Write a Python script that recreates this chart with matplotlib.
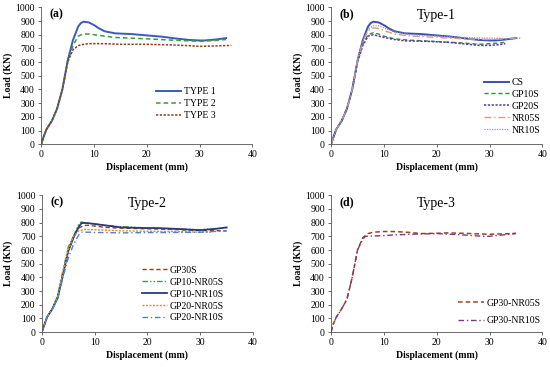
import matplotlib
matplotlib.use('Agg')
import matplotlib.pyplot as plt

plt.rcParams['font.family'] = ['Liberation Serif', 'DejaVu Serif']

# panel (a)
t1_x = [0, 0.5, 1, 2, 3, 4, 5, 6, 7, 7.5, 8, 9, 10, 11, 12, 14, 17, 20, 23, 26, 28, 30, 31, 33, 35]
t1_y = [0, 60, 110, 170, 260, 400, 610, 760, 860, 885, 895, 890, 870, 845, 825, 810, 805, 795, 785, 770, 762, 758, 758, 765, 775]
t2_x = [0, 0.5, 1, 2, 3, 4, 5, 6, 7, 8, 9, 10, 12, 14, 17, 20, 25, 30, 33, 35]
t2_y = [0, 60, 110, 170, 260, 400, 600, 720, 790, 805, 805, 800, 790, 780, 775, 770, 760, 752, 758, 765]
t3_x = [0, 0.5, 1, 2, 3, 4, 5, 6, 7, 8, 9, 11, 13, 15, 20, 25, 28, 30, 33, 36]
t3_y = [0, 60, 110, 170, 260, 400, 600, 690, 720, 730, 735, 735, 733, 730, 730, 725, 720, 715, 718, 722]

# panel (b)
cs_x, cs_y = t1_x, t1_y
gp10s_x = [0, 1, 2, 3, 4, 5, 6, 7, 8, 9, 10, 12, 15, 20, 25, 28, 30, 32, 33]
gp10s_y = [0, 110, 170, 260, 400, 600, 730, 800, 815, 805, 790, 770, 760, 750, 740, 730, 735, 740, 745]
gp20s_x = [0, 1, 2, 3, 4, 5, 6, 7, 8, 9, 10, 12, 14, 18, 22, 26, 28, 30, 32, 33]
gp20s_y = [0, 110, 170, 260, 400, 600, 720, 790, 800, 790, 780, 765, 755, 752, 745, 730, 722, 722, 728, 735]
nr05s_x = [0, 1, 2, 3, 4, 5, 6, 7, 8, 9, 10, 12, 15, 20, 25, 30, 33, 35]
nr05s_y = [0, 110, 170, 260, 400, 610, 750, 830, 850, 845, 830, 805, 790, 780, 770, 765, 770, 775]
nr10s_x = [0, 1, 2, 3, 4, 5, 6, 7, 8, 9, 10, 12, 15, 20, 25, 30, 33, 36]
nr10s_y = [0, 110, 170, 260, 400, 610, 755, 840, 865, 865, 850, 820, 800, 790, 780, 775, 772, 775]

# panel (c)
gp30s_x = [0, 1, 2, 3, 4, 5, 6, 7, 8, 9, 10, 12, 15, 20, 25, 30, 35]
gp30s_y = [0, 110, 170, 260, 420, 600, 700, 760, 780, 780, 775, 765, 760, 755, 750, 742, 740]
g10n05_x = [0, 1, 2, 3, 4, 5, 6, 7, 7.5, 8, 9, 10, 12, 15, 18, 20, 25, 30, 33, 35]
g10n05_y = [0, 110, 170, 270, 450, 620, 700, 790, 805, 800, 795, 790, 780, 770, 765, 760, 755, 748, 755, 762]
g10n10_x = [0, 1, 2, 3, 4, 5, 6, 7, 7.5, 8, 9, 10, 12, 15, 20, 22, 25, 30, 33, 35]
g10n10_y = [0, 110, 170, 250, 420, 590, 690, 770, 795, 798, 795, 790, 780, 765, 760, 760, 755, 745, 755, 765]
g20n05_x = [0, 1, 2, 3, 4, 5, 6, 7, 8, 10, 12, 15, 20, 25, 30, 32]
g20n05_y = [0, 110, 170, 260, 430, 600, 700, 740, 750, 748, 745, 740, 737, 735, 730, 730]
g20n10_x = [0, 1, 2, 3, 4, 5, 6, 7, 7.5, 9, 10, 12, 15, 20, 25, 30, 35]
g20n10_y = [0, 110, 170, 240, 400, 540, 640, 710, 730, 730, 728, 727, 725, 727, 728, 730, 740]

# panel (d)
gp30n05_x = [0, 0.3, 1, 2, 3, 4, 5, 6, 7, 8, 10, 12, 15, 17, 20, 22, 25, 30, 33, 35]
gp30n05_y = [0, 50, 110, 170, 240, 400, 600, 690, 720, 730, 735, 735, 728, 720, 722, 725, 722, 715, 718, 722]
gp30n10_x = [0, 0.3, 1, 2, 3, 4, 5, 6, 6.5, 8, 10, 12, 15, 20, 25, 28, 30, 33, 35]
gp30n10_y = [0, 50, 110, 170, 240, 400, 600, 680, 700, 702, 705, 710, 715, 720, 710, 702, 700, 712, 720]


def style_ax(ax, letter, title=None):
    ax.set_xlim(0, 40)
    ax.set_ylim(0, 1000)
    ax.set_xticks(range(0, 41, 10))
    ax.set_yticks(range(0, 1001, 100))
    ax.spines['top'].set_visible(False)
    ax.spines['right'].set_visible(False)
    for s in ('left', 'bottom'):
        ax.spines[s].set_linewidth(0.6)
        ax.spines[s].set_color('#555555')
    ax.tick_params(labelsize=7, width=0.6, length=2.5, color='#555555', pad=2)
    ax.set_xlabel('Displacement (mm)', fontsize=7, fontweight='bold', labelpad=2)
    ax.set_ylabel('Load (KN)', fontsize=7, fontweight='bold', labelpad=2)
    ax.text(0.04, 0.99, letter, transform=ax.transAxes, fontsize=8.5,
            fontweight='bold', va='top', ha='left')
    if title:
        ax.text(0.5, 0.99, title, transform=ax.transAxes, fontsize=10,
                va='top', ha='center')


fig = plt.figure(figsize=(5.5, 3.67), dpi=100)
w, h = 0.384, 0.373
ax_a = fig.add_axes([0.075, 0.607, w, h])
ax_b = fig.add_axes([0.602, 0.607, w, h])
ax_c = fig.add_axes([0.076, 0.095, w, h])
ax_d = fig.add_axes([0.602, 0.095, w, h])

leg_kw = dict(frameon=False, fontsize=7, handlelength=2.6, handletextpad=0.3,
              labelspacing=0.3, borderpad=0)

ax_a.plot(t1_x, t1_y, color='#3A5BB8', lw=1.4, label='TYPE 1')
ax_a.plot(t2_x, t2_y, color='#3C9A3C', lw=1.1, ls=(0, (3, 2)), label='TYPE 2')
ax_a.plot(t3_x, t3_y, color='#8B3E1E', lw=1.1, ls=(0, (1.5, 1)), label='TYPE 3')
style_ax(ax_a, '(a)')
ax_a.legend(loc='upper left', bbox_to_anchor=(0.52, 0.45), **leg_kw)

ax_b.plot(cs_x, cs_y, color='#3A4FB0', lw=1.4, label='CS')
ax_b.plot(gp10s_x, gp10s_y, color='#3C8A3C', lw=1.0, ls=(0, (3, 2)), label='GP10S')
ax_b.plot(gp20s_x, gp20s_y, color='#5A3AA0', lw=1.1, ls=(0, (1.5, 1)), label='GP20S')
ax_b.plot(nr05s_x, nr05s_y, color='#D9A080', lw=1.0, ls=(0, (5, 2, 1, 2)), label='NR05S')
ax_b.plot(nr10s_x, nr10s_y, color='#9A90C8', lw=0.9, ls=(0, (1, 1)), label='NR10S')
style_ax(ax_b, '(b)', 'Type-1')
ax_b.legend(loc='upper left', bbox_to_anchor=(0.7, 0.52), **leg_kw)

ax_c.plot(gp30s_x, gp30s_y, color='#9A3A20', lw=1.0, ls=(0, (3, 2)), label='GP30S')
ax_c.plot(g10n05_x, g10n05_y, color='#3C9A5A', lw=1.0, ls=(0, (4, 1.5, 1, 1.5, 1, 1.5)), label='GP10-NR05S')
ax_c.plot(g10n10_x, g10n10_y, color='#2A3A78', lw=1.3, label='GP10-NR10S')
ax_c.plot(g20n05_x, g20n05_y, color='#D9902A', lw=1.0, ls=(0, (1.5, 1)), label='GP20-NR05S')
ax_c.plot(g20n10_x, g20n10_y, color='#4A80D8', lw=1.0, ls=(0, (4, 2, 1, 2)), label='GP20-NR10S')
style_ax(ax_c, '(c)', 'Type-2')
ax_c.legend(loc='upper left', bbox_to_anchor=(0.45, 0.52), **leg_kw)

ax_d.plot(gp30n05_x, gp30n05_y, color='#A0401E', lw=1.1, ls=(0, (3, 2)), label='GP30-NR05S')
ax_d.plot(gp30n10_x, gp30n10_y, color='#7A3A7A', lw=1.0, ls=(0, (4, 2, 1, 2)), label='GP30-NR10S')
style_ax(ax_d, '(d)', 'Type-3')
ax_d.legend(loc='upper left', bbox_to_anchor=(0.58, 0.28), labelspacing=0.9,
            **{k: v for k, v in leg_kw.items() if k != 'labelspacing'})

fig.savefig('out.png', dpi=100)
